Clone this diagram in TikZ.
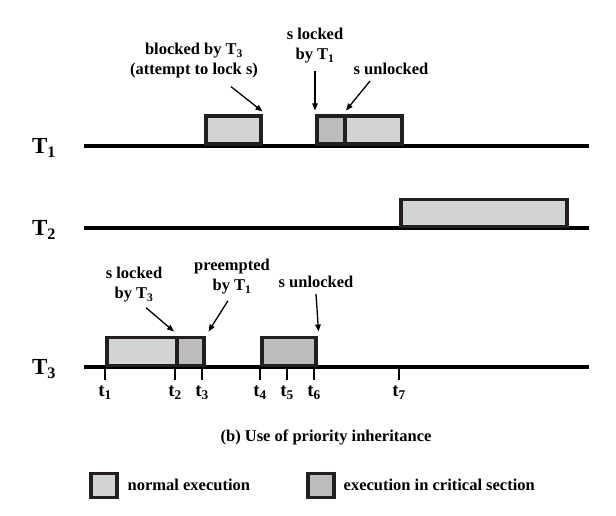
\documentclass[tikz,border=0pt]{standalone}
\usepackage{fontspec}
\setmainfont{Liberation Serif}
\usetikzlibrary{arrows.meta, positioning}
\definecolor{boxline}{RGB}{35,31,32}
\definecolor{normfill}{RGB}{211,212,213}
\definecolor{critfill}{RGB}{188,188,188}

\begin{document}
\begin{tikzpicture}[
  x=1pt, y=-1pt,
  every node/.style={font=\bfseries\fontsize{16.5}{20}\selectfont},
  timeline/.style={line width=4pt, black},
  normal/.style={draw=boxline, fill=normfill, line width=3.5pt, inner sep=0,
                 anchor=south west, minimum height=28pt},
  critical/.style={normal, fill=critfill},
  note/.style={align=center, inner sep=0},
  tasklabel/.style={font=\bfseries\fontsize{23}{26}\selectfont, inner sep=0},
  ticklabel/.style={font=\bfseries\fontsize{19}{22}\selectfont, inner sep=0},
  tick/.style={line width=2pt, black},
  pointer/.style={->, line width=1.3pt},
  >={Triangle[length=7pt, width=5.5pt]}
]
\useasboundingbox (0,0) rectangle (616,516);

% Timelines
\draw[timeline] (84,146) -- (589,146);
\draw[timeline] (84,228) -- (589,228);
\draw[timeline] (84,367) -- (589,367);
\node[tasklabel] (T1) at (44,148) {T\textsubscript{1}};
\node[tasklabel] (T2) at (44,230) {T\textsubscript{2}};
\node[tasklabel] (T3) at (44,369) {T\textsubscript{3}};

% Ticks
\foreach \n/\x in {1/105, 2/175, 3/202, 4/260, 5/287, 6/314, 7/399} {
  \draw[tick] (\x,367) -- (\x,380);
  \node[ticklabel] (t\n) at (\x,393) {t\textsubscript{\n}};
}

% T1 boxes
\node[normal, minimum width=55pt] (a1) at (204,146) {};
\node[critical, minimum width=28pt] (b1) at (315,146) {};
\node[normal, minimum width=57pt] (c1) at (343,146) {};

% T2 box
\node[normal, minimum width=166pt, minimum height=27pt] (d2) at (399,228) {};

% T3 boxes
\node[normal, minimum width=70pt] (e3) at (105,367) {};
\node[critical, minimum width=27pt] (f3) at (175,367) {};
\node[critical, minimum width=54pt] (g3) at (260,367) {};

% Notes for T1
\node[note] (blk) at (194,61) {blocked by T\textsubscript{3}\\(attempt to lock s)};
\node[note] (lk1) at (315,46) {s locked\\by T\textsubscript{1}};
\node[note] (ul1) at (391,69) {s unlocked};
\draw[pointer] ([shift={(37,8)}]blk.south) -- ([shift={(0,-3)}]a1.north east);
\draw[pointer] ([shift={(0,7)}]lk1.south) -- ([shift={(0,-4)}]b1.north west);
\draw[pointer] ([shift={(-21,6)}]ul1.south) -- ([shift={(3,-4)}]c1.north west);

% Notes for T3
\node[note] (lk3) at (134,285) {s locked\\by T\textsubscript{3}};
\node[note] (pre) at (232,277) {preempted\\by T\textsubscript{1}};
\node[note] (ul3) at (316,282) {s unlocked};
\draw[pointer] ([shift={(12,5)}]lk3.south) -- ([shift={(-1,-4)}]f3.north west);
\draw[pointer] ([shift={(-4,6)}]pre.south) -- ([shift={(3,-4)}]f3.north east);
\draw[pointer] ([shift={(0,6)}]ul3.south) -- ([shift={(1,-4)}]g3.north east);

% Caption
\node (cap) at (326,437) {(b) Use of priority inheritance};

% Legend
\node[normal, minimum width=26pt, minimum height=24pt] (leg1) at (89,499) {};
\node[anchor=west, inner sep=0, right=9pt of leg1] (legt1) {normal execution};
\node[critical, minimum width=26pt, minimum height=24pt] (leg2) at (306,499) {};
\node[anchor=west, inner sep=0, right=8pt of leg2] (legt2) {execution in critical section};

\end{tikzpicture}
\end{document}
